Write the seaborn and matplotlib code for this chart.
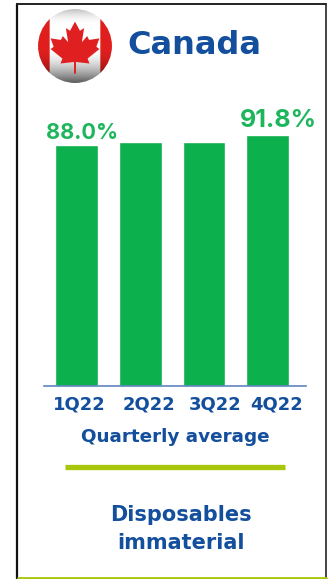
import numpy as np
import pandas as pd
import matplotlib
matplotlib.use("Agg")
import matplotlib.pyplot as plt
from matplotlib.patches import Circle, Polygon
import seaborn as sns

quarters = ["1Q22", "2Q22", "3Q22", "4Q22"]
utilisation = [88.0, 89.1, 89.1, 91.8]
value_labels = {0: "88.0%", 3: "91.8%"}
title = "Canada"
axis_caption = "Quarterly average"
footnote = ["Disposables", "immaterial"]

BLUE = "#134f9c"
GREEN = "#0cb04c"
LABEL_GREEN = "#1db65c"
LIME = "#a8c70c"
W, H = 328, 579

sns.set_theme(style="white")
plt.rcParams["font.family"] = ["DejaVu Sans"]

fig = plt.figure(figsize=(W / 100, H / 100), dpi=100, facecolor="white")


def px_axes(x0, y0, x1, y1, **kw):
    """Axes placed by pixel box, with y measured from the top."""
    return fig.add_axes([x0 / W, 1 - y1 / H, (x1 - x0) / W, (y1 - y0) / H], **kw)


# Full-figure layer in pixel coordinates for the frame and rules
bg = px_axes(0, 0, W, H)
bg.set_xlim(0, W)
bg.set_ylim(H, 0)
bg.axis("off")
bg.plot([17, 17], [4, 579], color="#111111", lw=1.6)
bg.plot([17, 326], [4, 4], color="#222222", lw=1.4)
bg.plot([326, 326], [4, 579], color="#222222", lw=1.2)
bg.plot([18, 326], [577.5, 577.5], color=LIME, lw=2)
bg.plot([65, 285], [466.5, 466.5], color=LIME, lw=3.8, solid_capstyle="butt")

# Bars
ax = px_axes(44, 100, 306, 386)
df = pd.DataFrame({"quarter": quarters, "value": utilisation})
sns.barplot(data=df, x="quarter", y="value", color=GREEN, saturation=1,
            width=0.67, ax=ax)
ax.set_xlim(-0.51, 3.6)
ax.set_ylim(0, 104.4)
ax.patch.set_alpha(0)
ax.set_xlabel("")
ax.set_ylabel("")
ax.set_yticks([])
ax.set_xticks([0.04, 1.13, 2.18, 3.14], quarters)
ax.tick_params(axis="x", length=0, pad=6.5, labelsize=13, labelcolor=BLUE)
for t in ax.get_xticklabels():
    t.set_fontweight("bold")
for side in ("top", "left", "right"):
    ax.spines[side].set_visible(False)
ax.spines["bottom"].set_color("#5f86bd")
ax.spines["bottom"].set_linewidth(1.2)

label_sizes = {0: 15.6, 3: 18}
label_shift = {0: 4, 3: 8}
for i, text in value_labels.items():
    ax.annotate(text, (i, utilisation[i]), xytext=(label_shift[i], 1.5),
                textcoords="offset points", ha="center", va="bottom",
                color=LABEL_GREEN, fontsize=label_sizes[i], fontweight="bold",
                family="Inter")

# Text blocks
bg.text(127, 46, title, color=BLUE, fontsize=23, fontweight="bold",
        ha="left", va="center")
bg.text(175, 437, axis_caption, color=BLUE, fontsize=13.2, fontweight="bold",
        ha="center", va="center")
bg.text(181, 515, footnote[0], color=BLUE, fontsize=15, fontweight="bold",
        ha="center", va="center")
bg.text(181, 543, footnote[1], color=BLUE, fontsize=15, fontweight="bold",
        ha="center", va="center")

# Glossy flag badge: white field, red side bands, grey shading towards the bottom
flag = px_axes(35, 6, 115, 86)
flag.set_xlim(-1.05, 1.05)
flag.set_ylim(-1.05, 1.05)
flag.set_aspect("equal")
flag.axis("off")
n = 240
xx, yy = np.meshgrid(np.linspace(-1.05, 1.05, n), np.linspace(1.05, -1.05, n))
rr = np.hypot(xx, yy)
base = np.ones((n, n, 3))
base[np.abs(xx) > 0.67] = (0.88, 0.12, 0.12)
lower = np.clip(-yy - 0.05, 0, 1)
shade_y = 1 - 0.75 * lower ** 1.8
upper = np.clip(yy - 0.55, 0, 1)
shade_top = 1 - 0.28 * (upper / 0.45) ** 2
img = base * (np.clip(shade_y * shade_top, 0, 1))[..., None]
im = flag.imshow(np.clip(img, 0, 1), extent=(-1.05, 1.05, -1.05, 1.05),
                 interpolation="bilinear")
im.set_clip_path(Circle((0, 0), 0.97, transform=flag.transData))

half_leaf = [(0, 0.64), (0.13, 0.40), (0.24, 0.47), (0.18, 0.10), (0.32, 0.26),
             (0.37, 0.16), (0.64, 0.20), (0.56, -0.02), (0.64, -0.08),
             (0.33, -0.33), (0.38, -0.46), (0.03, -0.42)]
leaf = half_leaf + [(-x, y) for x, y in half_leaf[::-1]]
flag.add_patch(Polygon(leaf, closed=True, facecolor="#e02020", edgecolor="none"))
flag.plot([0, 0], [-0.42, -0.72], color="#e02020", lw=1.4)

fig.savefig("out.png", dpi=100, facecolor="white")
